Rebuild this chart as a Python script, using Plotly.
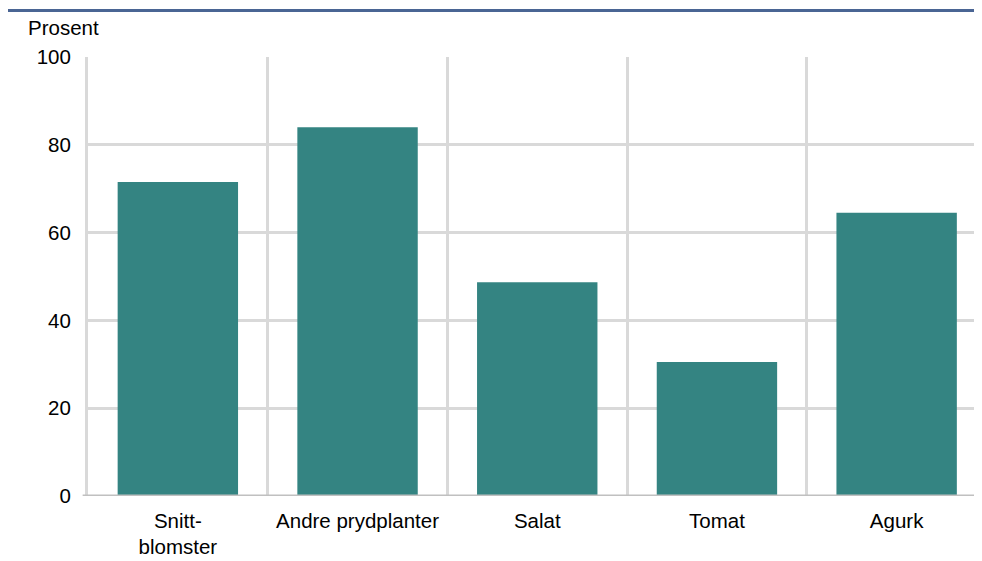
import plotly.graph_objects as go

categories = ["Snitt-<br>blomster", "Andre prydplanter", "Salat", "Tomat", "Agurk"]
values = [71.5, 84.0, 48.7, 30.5, 64.5]
y_ticks = [0, 20, 40, 60, 80, 100]

FONT = "Arial, Liberation Sans, sans-serif"
GRID = "#d9d9d9"
FS = 20.5

# page has an 8px default body margin; figure size compensates
W, H = 974, 553
L, T, B = 80, 49, 65
PH = H - T - B
XR = [-0.5, 4.475]

fig = go.Figure()
fig.add_trace(go.Bar(
    x=list(range(len(categories))), y=values,
    marker=dict(color="#348482", line=dict(width=0)),
    width=0.67, hoverinfo="skip",
))
fig.add_trace(go.Scatter(x=[0], y=[0], xaxis="x2", mode="markers",
                         marker=dict(opacity=0), hoverinfo="skip"))

fig.update_layout(
    width=W, height=H,
    margin=dict(l=L, r=0, t=T, b=B, autoexpand=False),
    paper_bgcolor="white", plot_bgcolor="white",
    showlegend=False,
    font=dict(family=FONT, size=FS, color="#000000"),
    xaxis=dict(
        range=XR, tickmode="array",
        tickvals=list(range(len(categories))), ticktext=categories,
        showgrid=False, zeroline=False, ticks="",
        showline=False, tickfont=dict(size=FS),
        ticklabelstandoff=10,
    ),
    xaxis2=dict(
        overlaying="x", range=XR, tickmode="array",
        tickvals=[0.5, 1.5, 2.5, 3.5],
        showgrid=True, gridcolor=GRID, gridwidth=3,
        showticklabels=False, zeroline=False, ticks="", showline=False,
    ),
    yaxis=dict(
        range=[0, 100], tickvals=y_ticks, showgrid=True,
        gridcolor=GRID, gridwidth=3, zeroline=False,
        ticks="", tickfont=dict(size=FS),
        showline=True, linecolor=GRID, linewidth=3,
        ticklabelstandoff=10,
    ),
    shapes=[
        dict(type="line", xref="paper", yref="y", x0=-0.006, x1=1, y0=0, y1=0,
             line=dict(color="#c0c0c0", width=3)),
        dict(type="line", xref="paper", yref="paper", x0=-L / (W - L), x1=1,
             y0=1 + (T - 2.5) / PH, y1=1 + (T - 2.5) / PH,
             line=dict(color="#4a6594", width=3)),
    ],
    annotations=[
        dict(text="Prosent", xref="paper", yref="paper",
             x=(18 - L) / (W - L), y=1 + (T - 20) / PH,
             xanchor="left", yanchor="middle", showarrow=False,
             font=dict(size=FS, family=FONT)),
    ],
)

fig.write_html("out.html")
